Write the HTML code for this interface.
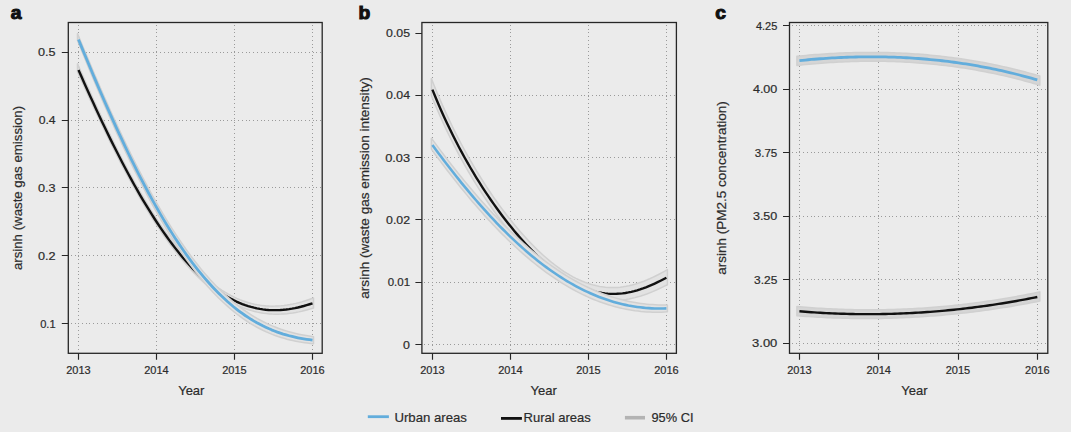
<!DOCTYPE html>
<html><head><meta charset="utf-8"><style>
html,body{margin:0;padding:0;background:#ebebeb;}
body{width:1071px;height:432px;overflow:hidden;position:relative;font-family:"Liberation Sans", sans-serif;}
svg text{font-family:"Liberation Sans", sans-serif;}
svg text.t{stroke:#2b2b2b;stroke-width:0.2px;}
</style></head><body>
<svg width="1071" height="432" viewBox="0 0 1071 432" style="position:absolute;left:0;top:0">
<rect width="1071" height="432" fill="#ebebeb"/>
<path d="M78 25h1v1h-1zM78 29h1v1h-1zM78 32h1v1h-1zM78 36h1v1h-1zM78 40h1v1h-1zM78 44h1v1h-1zM78 47h1v1h-1zM78 51h1v1h-1zM78 55h1v1h-1zM78 58h1v1h-1zM78 62h1v1h-1zM78 66h1v1h-1zM78 70h1v1h-1zM78 73h1v1h-1zM78 77h1v1h-1zM78 81h1v1h-1zM78 85h1v1h-1zM78 88h1v1h-1zM78 92h1v1h-1zM78 96h1v1h-1zM78 99h1v1h-1zM78 103h1v1h-1zM78 107h1v1h-1zM78 111h1v1h-1zM78 114h1v1h-1zM78 118h1v1h-1zM78 122h1v1h-1zM78 125h1v1h-1zM78 129h1v1h-1zM78 133h1v1h-1zM78 137h1v1h-1zM78 140h1v1h-1zM78 144h1v1h-1zM78 148h1v1h-1zM78 151h1v1h-1zM78 155h1v1h-1zM78 159h1v1h-1zM78 163h1v1h-1zM78 166h1v1h-1zM78 170h1v1h-1zM78 174h1v1h-1zM78 178h1v1h-1zM78 181h1v1h-1zM78 185h1v1h-1zM78 189h1v1h-1zM78 192h1v1h-1zM78 196h1v1h-1zM78 200h1v1h-1zM78 204h1v1h-1zM78 207h1v1h-1zM78 211h1v1h-1zM78 215h1v1h-1zM78 218h1v1h-1zM78 222h1v1h-1zM78 226h1v1h-1zM78 230h1v1h-1zM78 233h1v1h-1zM78 237h1v1h-1zM78 241h1v1h-1zM78 244h1v1h-1zM78 248h1v1h-1zM78 252h1v1h-1zM78 256h1v1h-1zM78 259h1v1h-1zM78 263h1v1h-1zM78 267h1v1h-1zM78 271h1v1h-1zM78 274h1v1h-1zM78 278h1v1h-1zM78 282h1v1h-1zM78 285h1v1h-1zM78 289h1v1h-1zM78 293h1v1h-1zM78 297h1v1h-1zM78 300h1v1h-1zM78 304h1v1h-1zM78 308h1v1h-1zM78 311h1v1h-1zM78 315h1v1h-1zM78 319h1v1h-1zM78 323h1v1h-1zM78 326h1v1h-1zM78 330h1v1h-1zM78 334h1v1h-1zM78 337h1v1h-1zM78 341h1v1h-1zM78 345h1v1h-1zM78 349h1v1h-1zM156 25h1v1h-1zM156 29h1v1h-1zM156 32h1v1h-1zM156 36h1v1h-1zM156 40h1v1h-1zM156 44h1v1h-1zM156 47h1v1h-1zM156 51h1v1h-1zM156 55h1v1h-1zM156 58h1v1h-1zM156 62h1v1h-1zM156 66h1v1h-1zM156 70h1v1h-1zM156 73h1v1h-1zM156 77h1v1h-1zM156 81h1v1h-1zM156 85h1v1h-1zM156 88h1v1h-1zM156 92h1v1h-1zM156 96h1v1h-1zM156 99h1v1h-1zM156 103h1v1h-1zM156 107h1v1h-1zM156 111h1v1h-1zM156 114h1v1h-1zM156 118h1v1h-1zM156 122h1v1h-1zM156 125h1v1h-1zM156 129h1v1h-1zM156 133h1v1h-1zM156 137h1v1h-1zM156 140h1v1h-1zM156 144h1v1h-1zM156 148h1v1h-1zM156 151h1v1h-1zM156 155h1v1h-1zM156 159h1v1h-1zM156 163h1v1h-1zM156 166h1v1h-1zM156 170h1v1h-1zM156 174h1v1h-1zM156 178h1v1h-1zM156 181h1v1h-1zM156 185h1v1h-1zM156 189h1v1h-1zM156 192h1v1h-1zM156 196h1v1h-1zM156 200h1v1h-1zM156 204h1v1h-1zM156 207h1v1h-1zM156 211h1v1h-1zM156 215h1v1h-1zM156 218h1v1h-1zM156 222h1v1h-1zM156 226h1v1h-1zM156 230h1v1h-1zM156 233h1v1h-1zM156 237h1v1h-1zM156 241h1v1h-1zM156 244h1v1h-1zM156 248h1v1h-1zM156 252h1v1h-1zM156 256h1v1h-1zM156 259h1v1h-1zM156 263h1v1h-1zM156 267h1v1h-1zM156 271h1v1h-1zM156 274h1v1h-1zM156 278h1v1h-1zM156 282h1v1h-1zM156 285h1v1h-1zM156 289h1v1h-1zM156 293h1v1h-1zM156 297h1v1h-1zM156 300h1v1h-1zM156 304h1v1h-1zM156 308h1v1h-1zM156 311h1v1h-1zM156 315h1v1h-1zM156 319h1v1h-1zM156 323h1v1h-1zM156 326h1v1h-1zM156 330h1v1h-1zM156 334h1v1h-1zM156 337h1v1h-1zM156 341h1v1h-1zM156 345h1v1h-1zM156 349h1v1h-1zM234 25h1v1h-1zM234 29h1v1h-1zM234 32h1v1h-1zM234 36h1v1h-1zM234 40h1v1h-1zM234 44h1v1h-1zM234 47h1v1h-1zM234 51h1v1h-1zM234 55h1v1h-1zM234 58h1v1h-1zM234 62h1v1h-1zM234 66h1v1h-1zM234 70h1v1h-1zM234 73h1v1h-1zM234 77h1v1h-1zM234 81h1v1h-1zM234 85h1v1h-1zM234 88h1v1h-1zM234 92h1v1h-1zM234 96h1v1h-1zM234 99h1v1h-1zM234 103h1v1h-1zM234 107h1v1h-1zM234 111h1v1h-1zM234 114h1v1h-1zM234 118h1v1h-1zM234 122h1v1h-1zM234 125h1v1h-1zM234 129h1v1h-1zM234 133h1v1h-1zM234 137h1v1h-1zM234 140h1v1h-1zM234 144h1v1h-1zM234 148h1v1h-1zM234 151h1v1h-1zM234 155h1v1h-1zM234 159h1v1h-1zM234 163h1v1h-1zM234 166h1v1h-1zM234 170h1v1h-1zM234 174h1v1h-1zM234 178h1v1h-1zM234 181h1v1h-1zM234 185h1v1h-1zM234 189h1v1h-1zM234 192h1v1h-1zM234 196h1v1h-1zM234 200h1v1h-1zM234 204h1v1h-1zM234 207h1v1h-1zM234 211h1v1h-1zM234 215h1v1h-1zM234 218h1v1h-1zM234 222h1v1h-1zM234 226h1v1h-1zM234 230h1v1h-1zM234 233h1v1h-1zM234 237h1v1h-1zM234 241h1v1h-1zM234 244h1v1h-1zM234 248h1v1h-1zM234 252h1v1h-1zM234 256h1v1h-1zM234 259h1v1h-1zM234 263h1v1h-1zM234 267h1v1h-1zM234 271h1v1h-1zM234 274h1v1h-1zM234 278h1v1h-1zM234 282h1v1h-1zM234 285h1v1h-1zM234 289h1v1h-1zM234 293h1v1h-1zM234 297h1v1h-1zM234 300h1v1h-1zM234 304h1v1h-1zM234 308h1v1h-1zM234 311h1v1h-1zM234 315h1v1h-1zM234 319h1v1h-1zM234 323h1v1h-1zM234 326h1v1h-1zM234 330h1v1h-1zM234 334h1v1h-1zM234 337h1v1h-1zM234 341h1v1h-1zM234 345h1v1h-1zM234 349h1v1h-1zM312 25h1v1h-1zM312 29h1v1h-1zM312 32h1v1h-1zM312 36h1v1h-1zM312 40h1v1h-1zM312 44h1v1h-1zM312 47h1v1h-1zM312 51h1v1h-1zM312 55h1v1h-1zM312 58h1v1h-1zM312 62h1v1h-1zM312 66h1v1h-1zM312 70h1v1h-1zM312 73h1v1h-1zM312 77h1v1h-1zM312 81h1v1h-1zM312 85h1v1h-1zM312 88h1v1h-1zM312 92h1v1h-1zM312 96h1v1h-1zM312 99h1v1h-1zM312 103h1v1h-1zM312 107h1v1h-1zM312 111h1v1h-1zM312 114h1v1h-1zM312 118h1v1h-1zM312 122h1v1h-1zM312 125h1v1h-1zM312 129h1v1h-1zM312 133h1v1h-1zM312 137h1v1h-1zM312 140h1v1h-1zM312 144h1v1h-1zM312 148h1v1h-1zM312 151h1v1h-1zM312 155h1v1h-1zM312 159h1v1h-1zM312 163h1v1h-1zM312 166h1v1h-1zM312 170h1v1h-1zM312 174h1v1h-1zM312 178h1v1h-1zM312 181h1v1h-1zM312 185h1v1h-1zM312 189h1v1h-1zM312 192h1v1h-1zM312 196h1v1h-1zM312 200h1v1h-1zM312 204h1v1h-1zM312 207h1v1h-1zM312 211h1v1h-1zM312 215h1v1h-1zM312 218h1v1h-1zM312 222h1v1h-1zM312 226h1v1h-1zM312 230h1v1h-1zM312 233h1v1h-1zM312 237h1v1h-1zM312 241h1v1h-1zM312 244h1v1h-1zM312 248h1v1h-1zM312 252h1v1h-1zM312 256h1v1h-1zM312 259h1v1h-1zM312 263h1v1h-1zM312 267h1v1h-1zM312 271h1v1h-1zM312 274h1v1h-1zM312 278h1v1h-1zM312 282h1v1h-1zM312 285h1v1h-1zM312 289h1v1h-1zM312 293h1v1h-1zM312 297h1v1h-1zM312 300h1v1h-1zM312 304h1v1h-1zM312 308h1v1h-1zM312 311h1v1h-1zM312 315h1v1h-1zM312 319h1v1h-1zM312 323h1v1h-1zM312 326h1v1h-1zM312 330h1v1h-1zM312 334h1v1h-1zM312 337h1v1h-1zM312 341h1v1h-1zM312 345h1v1h-1zM312 349h1v1h-1zM71 323h1v1h-1zM75 323h1v1h-1zM78 323h1v1h-1zM82 323h1v1h-1zM86 323h1v1h-1zM89 323h1v1h-1zM93 323h1v1h-1zM97 323h1v1h-1zM101 323h1v1h-1zM104 323h1v1h-1zM108 323h1v1h-1zM112 323h1v1h-1zM115 323h1v1h-1zM119 323h1v1h-1zM123 323h1v1h-1zM127 323h1v1h-1zM130 323h1v1h-1zM134 323h1v1h-1zM138 323h1v1h-1zM141 323h1v1h-1zM145 323h1v1h-1zM149 323h1v1h-1zM153 323h1v1h-1zM156 323h1v1h-1zM160 323h1v1h-1zM164 323h1v1h-1zM168 323h1v1h-1zM171 323h1v1h-1zM175 323h1v1h-1zM179 323h1v1h-1zM182 323h1v1h-1zM186 323h1v1h-1zM190 323h1v1h-1zM194 323h1v1h-1zM197 323h1v1h-1zM201 323h1v1h-1zM205 323h1v1h-1zM208 323h1v1h-1zM212 323h1v1h-1zM216 323h1v1h-1zM220 323h1v1h-1zM223 323h1v1h-1zM227 323h1v1h-1zM231 323h1v1h-1zM234 323h1v1h-1zM238 323h1v1h-1zM242 323h1v1h-1zM246 323h1v1h-1zM249 323h1v1h-1zM253 323h1v1h-1zM257 323h1v1h-1zM261 323h1v1h-1zM264 323h1v1h-1zM268 323h1v1h-1zM272 323h1v1h-1zM275 323h1v1h-1zM279 323h1v1h-1zM283 323h1v1h-1zM287 323h1v1h-1zM290 323h1v1h-1zM294 323h1v1h-1zM298 323h1v1h-1zM301 323h1v1h-1zM305 323h1v1h-1zM309 323h1v1h-1zM313 323h1v1h-1zM316 323h1v1h-1zM320 323h1v1h-1zM71 255h1v1h-1zM75 255h1v1h-1zM78 255h1v1h-1zM82 255h1v1h-1zM86 255h1v1h-1zM89 255h1v1h-1zM93 255h1v1h-1zM97 255h1v1h-1zM101 255h1v1h-1zM104 255h1v1h-1zM108 255h1v1h-1zM112 255h1v1h-1zM115 255h1v1h-1zM119 255h1v1h-1zM123 255h1v1h-1zM127 255h1v1h-1zM130 255h1v1h-1zM134 255h1v1h-1zM138 255h1v1h-1zM141 255h1v1h-1zM145 255h1v1h-1zM149 255h1v1h-1zM153 255h1v1h-1zM156 255h1v1h-1zM160 255h1v1h-1zM164 255h1v1h-1zM168 255h1v1h-1zM171 255h1v1h-1zM175 255h1v1h-1zM179 255h1v1h-1zM182 255h1v1h-1zM186 255h1v1h-1zM190 255h1v1h-1zM194 255h1v1h-1zM197 255h1v1h-1zM201 255h1v1h-1zM205 255h1v1h-1zM208 255h1v1h-1zM212 255h1v1h-1zM216 255h1v1h-1zM220 255h1v1h-1zM223 255h1v1h-1zM227 255h1v1h-1zM231 255h1v1h-1zM234 255h1v1h-1zM238 255h1v1h-1zM242 255h1v1h-1zM246 255h1v1h-1zM249 255h1v1h-1zM253 255h1v1h-1zM257 255h1v1h-1zM261 255h1v1h-1zM264 255h1v1h-1zM268 255h1v1h-1zM272 255h1v1h-1zM275 255h1v1h-1zM279 255h1v1h-1zM283 255h1v1h-1zM287 255h1v1h-1zM290 255h1v1h-1zM294 255h1v1h-1zM298 255h1v1h-1zM301 255h1v1h-1zM305 255h1v1h-1zM309 255h1v1h-1zM313 255h1v1h-1zM316 255h1v1h-1zM320 255h1v1h-1zM71 187h1v1h-1zM75 187h1v1h-1zM78 187h1v1h-1zM82 187h1v1h-1zM86 187h1v1h-1zM89 187h1v1h-1zM93 187h1v1h-1zM97 187h1v1h-1zM101 187h1v1h-1zM104 187h1v1h-1zM108 187h1v1h-1zM112 187h1v1h-1zM115 187h1v1h-1zM119 187h1v1h-1zM123 187h1v1h-1zM127 187h1v1h-1zM130 187h1v1h-1zM134 187h1v1h-1zM138 187h1v1h-1zM141 187h1v1h-1zM145 187h1v1h-1zM149 187h1v1h-1zM153 187h1v1h-1zM156 187h1v1h-1zM160 187h1v1h-1zM164 187h1v1h-1zM168 187h1v1h-1zM171 187h1v1h-1zM175 187h1v1h-1zM179 187h1v1h-1zM182 187h1v1h-1zM186 187h1v1h-1zM190 187h1v1h-1zM194 187h1v1h-1zM197 187h1v1h-1zM201 187h1v1h-1zM205 187h1v1h-1zM208 187h1v1h-1zM212 187h1v1h-1zM216 187h1v1h-1zM220 187h1v1h-1zM223 187h1v1h-1zM227 187h1v1h-1zM231 187h1v1h-1zM234 187h1v1h-1zM238 187h1v1h-1zM242 187h1v1h-1zM246 187h1v1h-1zM249 187h1v1h-1zM253 187h1v1h-1zM257 187h1v1h-1zM261 187h1v1h-1zM264 187h1v1h-1zM268 187h1v1h-1zM272 187h1v1h-1zM275 187h1v1h-1zM279 187h1v1h-1zM283 187h1v1h-1zM287 187h1v1h-1zM290 187h1v1h-1zM294 187h1v1h-1zM298 187h1v1h-1zM301 187h1v1h-1zM305 187h1v1h-1zM309 187h1v1h-1zM313 187h1v1h-1zM316 187h1v1h-1zM320 187h1v1h-1zM71 120h1v1h-1zM75 120h1v1h-1zM78 120h1v1h-1zM82 120h1v1h-1zM86 120h1v1h-1zM89 120h1v1h-1zM93 120h1v1h-1zM97 120h1v1h-1zM101 120h1v1h-1zM104 120h1v1h-1zM108 120h1v1h-1zM112 120h1v1h-1zM115 120h1v1h-1zM119 120h1v1h-1zM123 120h1v1h-1zM127 120h1v1h-1zM130 120h1v1h-1zM134 120h1v1h-1zM138 120h1v1h-1zM141 120h1v1h-1zM145 120h1v1h-1zM149 120h1v1h-1zM153 120h1v1h-1zM156 120h1v1h-1zM160 120h1v1h-1zM164 120h1v1h-1zM168 120h1v1h-1zM171 120h1v1h-1zM175 120h1v1h-1zM179 120h1v1h-1zM182 120h1v1h-1zM186 120h1v1h-1zM190 120h1v1h-1zM194 120h1v1h-1zM197 120h1v1h-1zM201 120h1v1h-1zM205 120h1v1h-1zM208 120h1v1h-1zM212 120h1v1h-1zM216 120h1v1h-1zM220 120h1v1h-1zM223 120h1v1h-1zM227 120h1v1h-1zM231 120h1v1h-1zM234 120h1v1h-1zM238 120h1v1h-1zM242 120h1v1h-1zM246 120h1v1h-1zM249 120h1v1h-1zM253 120h1v1h-1zM257 120h1v1h-1zM261 120h1v1h-1zM264 120h1v1h-1zM268 120h1v1h-1zM272 120h1v1h-1zM275 120h1v1h-1zM279 120h1v1h-1zM283 120h1v1h-1zM287 120h1v1h-1zM290 120h1v1h-1zM294 120h1v1h-1zM298 120h1v1h-1zM301 120h1v1h-1zM305 120h1v1h-1zM309 120h1v1h-1zM313 120h1v1h-1zM316 120h1v1h-1zM320 120h1v1h-1zM71 52h1v1h-1zM75 52h1v1h-1zM78 52h1v1h-1zM82 52h1v1h-1zM86 52h1v1h-1zM89 52h1v1h-1zM93 52h1v1h-1zM97 52h1v1h-1zM101 52h1v1h-1zM104 52h1v1h-1zM108 52h1v1h-1zM112 52h1v1h-1zM115 52h1v1h-1zM119 52h1v1h-1zM123 52h1v1h-1zM127 52h1v1h-1zM130 52h1v1h-1zM134 52h1v1h-1zM138 52h1v1h-1zM141 52h1v1h-1zM145 52h1v1h-1zM149 52h1v1h-1zM153 52h1v1h-1zM156 52h1v1h-1zM160 52h1v1h-1zM164 52h1v1h-1zM168 52h1v1h-1zM171 52h1v1h-1zM175 52h1v1h-1zM179 52h1v1h-1zM182 52h1v1h-1zM186 52h1v1h-1zM190 52h1v1h-1zM194 52h1v1h-1zM197 52h1v1h-1zM201 52h1v1h-1zM205 52h1v1h-1zM208 52h1v1h-1zM212 52h1v1h-1zM216 52h1v1h-1zM220 52h1v1h-1zM223 52h1v1h-1zM227 52h1v1h-1zM231 52h1v1h-1zM234 52h1v1h-1zM238 52h1v1h-1zM242 52h1v1h-1zM246 52h1v1h-1zM249 52h1v1h-1zM253 52h1v1h-1zM257 52h1v1h-1zM261 52h1v1h-1zM264 52h1v1h-1zM268 52h1v1h-1zM272 52h1v1h-1zM275 52h1v1h-1zM279 52h1v1h-1zM283 52h1v1h-1zM287 52h1v1h-1zM290 52h1v1h-1zM294 52h1v1h-1zM298 52h1v1h-1zM301 52h1v1h-1zM305 52h1v1h-1zM309 52h1v1h-1zM313 52h1v1h-1zM316 52h1v1h-1zM320 52h1v1h-1z" fill="#9a9a9a" shape-rendering="crispEdges"/>
<polygon points="77.5,63.67 80.45,70.43 83.4,77.15 86.35,83.8 89.3,90.4 92.25,96.94 95.2,103.41 98.15,109.81 101.1,116.14 104.05,122.4 107,128.58 109.95,134.68 112.9,140.7 115.85,146.64 118.8,152.49 121.75,158.26 124.7,163.93 127.65,169.51 130.6,174.99 133.55,180.38 136.5,185.66 139.45,190.85 142.4,195.94 145.35,200.92 148.3,205.79 151.25,210.56 154.2,215.22 157.15,219.77 160.1,224.21 163.05,228.53 166,232.74 168.95,236.84 171.9,240.82 174.85,244.69 177.8,248.44 180.75,252.07 183.7,255.58 186.65,258.97 189.6,262.25 192.55,265.4 195.5,268.44 198.45,271.35 201.4,274.15 204.35,276.82 207.3,279.37 210.25,281.8 213.2,284.12 216.15,286.31 219.1,288.38 222.05,290.34 225,292.17 227.95,293.89 230.9,295.49 233.85,296.97 236.8,298.34 239.75,299.59 242.7,300.73 245.65,301.76 248.6,302.68 251.55,303.48 254.5,304.18 257.45,304.76 260.4,305.25 263.35,305.62 266.3,305.9 269.25,306.07 272.2,306.14 275.15,306.12 278.1,306 281.05,305.79 284,305.48 286.95,305.09 289.9,304.6 292.85,304.04 295.8,303.39 298.75,302.66 301.7,301.86 304.65,300.98 307.6,300.03 310.55,299.01 313.5,297.92 313.5,307.98 310.55,308.89 307.6,309.74 304.65,310.52 301.7,311.24 298.75,311.88 295.8,312.45 292.85,312.95 289.9,313.36 286.95,313.7 284,313.95 281.05,314.12 278.1,314.2 275.15,314.19 272.2,314.09 269.25,313.89 266.3,313.6 263.35,313.21 260.4,312.72 257.45,312.13 254.5,311.44 251.55,310.65 248.6,309.75 245.65,308.74 242.7,307.63 239.75,306.4 236.8,305.07 233.85,303.62 230.9,302.07 227.95,300.4 225,298.61 222.05,296.72 219.1,294.71 216.15,292.58 213.2,290.34 210.25,287.98 207.3,285.5 204.35,282.91 201.4,280.2 198.45,277.38 195.5,274.44 192.55,271.38 189.6,268.21 186.65,264.92 183.7,261.51 180.75,257.99 177.8,254.35 174.85,250.61 171.9,246.74 168.95,242.77 166,238.68 163.05,234.48 160.1,230.18 157.15,225.76 154.2,221.24 151.25,216.61 148.3,211.88 145.35,207.04 142.4,202.1 139.45,197.06 136.5,191.92 133.55,186.69 130.6,181.36 127.65,175.94 124.7,170.42 121.75,164.82 118.8,159.13 115.85,153.35 112.9,147.49 109.95,141.56 107,135.54 104.05,129.45 101.1,123.29 98.15,117.05 95.2,110.75 92.25,104.39 89.3,97.96 86.35,91.48 83.4,84.94 80.45,78.35 77.5,71.71" fill="#e2e2e2" stroke="#d0d0d0" stroke-width="1.5" stroke-linejoin="round"/>
<polyline points="78.5,69.97 81.42,76.6 84.35,83.17 87.28,89.7 90.2,96.17 93.12,102.57 96.05,108.92 98.97,115.19 101.9,121.4 104.83,127.54 107.75,133.61 110.67,139.6 113.6,145.51 116.53,151.33 119.45,157.08 122.38,162.74 125.3,168.31 128.22,173.79 131.15,179.18 134.07,184.48 137,189.68 139.93,194.78 142.85,199.78 145.77,204.68 148.7,209.49 151.62,214.18 154.55,218.77 157.47,223.26 160.4,227.64 163.32,231.9 166.25,236.06 169.18,240.11 172.1,244.05 175.02,247.87 177.95,251.58 180.88,255.18 183.8,258.66 186.72,262.03 189.65,265.28 192.57,268.42 195.5,271.44 198.43,274.34 201.35,277.13 204.27,279.8 207.2,282.35 210.12,284.79 213.05,287.11 215.97,289.32 218.9,291.41 221.82,293.38 224.75,295.24 227.67,296.99 230.6,298.62 233.52,300.14 236.45,301.54 239.38,302.84 242.3,304.03 245.22,305.1 248.15,306.07 251.07,306.93 254,307.69 256.92,308.34 259.85,308.89 262.77,309.34 265.7,309.69 268.62,309.94 271.55,310.09 274.48,310.15 277.4,310.12 280.32,310 283.25,309.79 286.17,309.49 289.1,309.1 292.02,308.64 294.95,308.09 297.88,307.47 300.8,306.78 303.73,306.01 306.65,305.17 309.57,304.27 312.5,303.3" fill="none" stroke="#111111" stroke-width="2.4" stroke-linejoin="round"/>
<polygon points="77.5,33.51 80.45,40.67 83.4,47.8 86.35,54.87 89.3,61.9 92.25,68.87 95.2,75.79 98.15,82.65 101.1,89.45 104.05,96.18 107,102.85 109.95,109.45 112.9,115.97 115.85,122.43 118.8,128.8 121.75,135.1 124.7,141.32 127.65,147.45 130.6,153.5 133.55,159.46 136.5,165.33 139.45,171.11 142.4,176.8 145.35,182.4 148.3,187.9 151.25,193.3 154.2,198.61 157.15,203.81 160.1,208.92 163.05,213.92 166,218.83 168.95,223.62 171.9,228.32 174.85,232.91 177.8,237.39 180.75,241.77 183.7,246.04 186.65,250.21 189.6,254.27 192.55,258.22 195.5,262.06 198.45,265.79 201.4,269.42 204.35,272.94 207.3,276.35 210.25,279.66 213.2,282.86 216.15,285.96 219.1,288.94 222.05,291.83 225,294.61 227.95,297.28 230.9,299.86 233.85,302.33 236.8,304.7 239.75,306.98 242.7,309.15 245.65,311.23 248.6,313.21 251.55,315.1 254.5,316.9 257.45,318.61 260.4,320.23 263.35,321.76 266.3,323.21 269.25,324.57 272.2,325.86 275.15,327.06 278.1,328.19 281.05,329.25 284,330.23 286.95,331.15 289.9,332 292.85,332.78 295.8,333.5 298.75,334.17 301.7,334.78 304.65,335.34 307.6,335.85 310.55,336.31 313.5,336.73 313.5,343.69 310.55,343.4 307.6,343.06 304.65,342.68 301.7,342.24 298.75,341.75 295.8,341.19 292.85,340.58 289.9,339.9 286.95,339.16 284,338.34 281.05,337.46 278.1,336.5 275.15,335.46 272.2,334.34 269.25,333.14 266.3,331.86 263.35,330.49 260.4,329.03 257.45,327.48 254.5,325.84 251.55,324.11 248.6,322.28 245.65,320.35 242.7,318.33 239.75,316.2 236.8,313.98 233.85,311.65 230.9,309.22 227.95,306.68 225,304.04 222.05,301.29 219.1,298.44 216.15,295.47 213.2,292.4 210.25,289.22 207.3,285.93 204.35,282.53 201.4,279.01 198.45,275.39 195.5,271.66 192.55,267.81 189.6,263.86 186.65,259.79 183.7,255.62 180.75,251.33 177.8,246.93 174.85,242.43 171.9,237.81 168.95,233.09 166,228.26 163.05,223.32 160.1,218.28 157.15,213.13 154.2,207.88 151.25,202.53 148.3,197.07 145.35,191.52 142.4,185.87 139.45,180.11 136.5,174.27 133.55,168.33 130.6,162.3 127.65,156.17 124.7,149.96 121.75,143.67 118.8,137.28 115.85,130.82 112.9,124.28 109.95,117.66 107,110.96 104.05,104.19 101.1,97.35 98.15,90.45 95.2,83.48 92.25,76.44 89.3,69.35 86.35,62.21 83.4,55.01 80.45,47.76 77.5,40.47" fill="#e2e2e2" stroke="#d0d0d0" stroke-width="1.5" stroke-linejoin="round"/>
<polyline points="78.5,39.44 81.42,46.6 84.35,53.71 87.28,60.77 90.2,67.78 93.12,74.73 96.05,81.63 98.97,88.47 101.9,95.25 104.83,101.96 107.75,108.6 110.67,115.17 113.6,121.67 116.53,128.1 119.45,134.45 122.38,140.71 125.3,146.9 128.22,153 131.15,159.02 134.07,164.95 137,170.79 139.93,176.54 142.85,182.2 145.77,187.76 148.7,193.23 151.62,198.6 154.55,203.87 157.47,209.04 160.4,214.12 163.32,219.09 166.25,223.95 169.18,228.72 172.1,233.38 175.02,237.94 177.95,242.39 180.88,246.73 183.8,250.97 186.72,255.1 189.65,259.13 192.57,263.05 195.5,266.86 198.43,270.56 201.35,274.16 204.27,277.65 207.2,281.03 210.12,284.3 213.05,287.47 215.97,290.53 218.9,293.49 221.82,296.35 224.75,299.09 227.67,301.74 230.6,304.28 233.52,306.73 236.45,309.07 239.38,311.31 242.3,313.45 245.22,315.5 248.15,317.45 251.07,319.31 254,321.08 256.92,322.76 259.85,324.34 262.77,325.84 265.7,327.25 268.62,328.58 271.55,329.83 274.48,331 277.4,332.1 280.32,333.11 283.25,334.06 286.17,334.93 289.1,335.74 292.02,336.48 294.95,337.16 297.88,337.78 300.8,338.35 303.73,338.86 306.65,339.32 309.57,339.73 312.5,340.1" fill="none" stroke="#62addc" stroke-width="2.8" stroke-linejoin="round"/>
<rect x="68.3" y="22.5" width="253.9" height="330.8" fill="none" stroke="#262626" stroke-width="1.3"/>
<path d="M78.5 353.3V359.8M156.5 353.3V359.8M234.5 353.3V359.8M312.5 353.3V359.8M61.8 323.5H68.3M61.8 255.5H68.3M61.8 187.5H68.3M61.8 120.5H68.3M61.8 52.5H68.3" stroke="#262626" stroke-width="1.15" fill="none"/>
<text x="78.5" y="374" text-anchor="middle" font-size="11" fill="#2b2b2b" class="t">2013</text>
<text x="156.5" y="374" text-anchor="middle" font-size="11" fill="#2b2b2b" class="t">2014</text>
<text x="234.5" y="374" text-anchor="middle" font-size="11" fill="#2b2b2b" class="t">2015</text>
<text x="312.5" y="374" text-anchor="middle" font-size="11" fill="#2b2b2b" class="t">2016</text>
<text transform="translate(55.6,327.5) scale(1.01,1)" text-anchor="end" font-size="11" fill="#2b2b2b" class="t">0.1</text>
<text transform="translate(55.6,259.73) scale(1.15,1)" text-anchor="end" font-size="11" fill="#2b2b2b" class="t">0.2</text>
<text transform="translate(55.6,191.95) scale(1.15,1)" text-anchor="end" font-size="11" fill="#2b2b2b" class="t">0.3</text>
<text transform="translate(55.6,124.17) scale(1.11,1)" text-anchor="end" font-size="11" fill="#2b2b2b" class="t">0.4</text>
<text transform="translate(55.6,56.4) scale(1.15,1)" text-anchor="end" font-size="11" fill="#2b2b2b" class="t">0.5</text>
<text x="191.3" y="394.7" text-anchor="middle" font-size="13" fill="#2b2b2b" class="t">Year</text>
<text transform="translate(21.8,188) rotate(-90)" text-anchor="middle" font-size="13.25" fill="#2b2b2b" class="t">arsinh (waste gas emission)</text>
<text transform="translate(10.8,19.3) scale(1.1,1)" font-size="17.5" font-weight="bold" fill="#111" stroke="#111" stroke-width="1.0">a</text>
<path d="M432 25h1v1h-1zM432 29h1v1h-1zM432 32h1v1h-1zM432 36h1v1h-1zM432 40h1v1h-1zM432 44h1v1h-1zM432 47h1v1h-1zM432 51h1v1h-1zM432 55h1v1h-1zM432 58h1v1h-1zM432 62h1v1h-1zM432 66h1v1h-1zM432 70h1v1h-1zM432 73h1v1h-1zM432 77h1v1h-1zM432 81h1v1h-1zM432 85h1v1h-1zM432 88h1v1h-1zM432 92h1v1h-1zM432 96h1v1h-1zM432 99h1v1h-1zM432 103h1v1h-1zM432 107h1v1h-1zM432 111h1v1h-1zM432 114h1v1h-1zM432 118h1v1h-1zM432 122h1v1h-1zM432 125h1v1h-1zM432 129h1v1h-1zM432 133h1v1h-1zM432 137h1v1h-1zM432 140h1v1h-1zM432 144h1v1h-1zM432 148h1v1h-1zM432 151h1v1h-1zM432 155h1v1h-1zM432 159h1v1h-1zM432 163h1v1h-1zM432 166h1v1h-1zM432 170h1v1h-1zM432 174h1v1h-1zM432 178h1v1h-1zM432 181h1v1h-1zM432 185h1v1h-1zM432 189h1v1h-1zM432 192h1v1h-1zM432 196h1v1h-1zM432 200h1v1h-1zM432 204h1v1h-1zM432 207h1v1h-1zM432 211h1v1h-1zM432 215h1v1h-1zM432 218h1v1h-1zM432 222h1v1h-1zM432 226h1v1h-1zM432 230h1v1h-1zM432 233h1v1h-1zM432 237h1v1h-1zM432 241h1v1h-1zM432 244h1v1h-1zM432 248h1v1h-1zM432 252h1v1h-1zM432 256h1v1h-1zM432 259h1v1h-1zM432 263h1v1h-1zM432 267h1v1h-1zM432 271h1v1h-1zM432 274h1v1h-1zM432 278h1v1h-1zM432 282h1v1h-1zM432 285h1v1h-1zM432 289h1v1h-1zM432 293h1v1h-1zM432 297h1v1h-1zM432 300h1v1h-1zM432 304h1v1h-1zM432 308h1v1h-1zM432 311h1v1h-1zM432 315h1v1h-1zM432 319h1v1h-1zM432 323h1v1h-1zM432 326h1v1h-1zM432 330h1v1h-1zM432 334h1v1h-1zM432 337h1v1h-1zM432 341h1v1h-1zM432 345h1v1h-1zM432 349h1v1h-1zM510 25h1v1h-1zM510 29h1v1h-1zM510 32h1v1h-1zM510 36h1v1h-1zM510 40h1v1h-1zM510 44h1v1h-1zM510 47h1v1h-1zM510 51h1v1h-1zM510 55h1v1h-1zM510 58h1v1h-1zM510 62h1v1h-1zM510 66h1v1h-1zM510 70h1v1h-1zM510 73h1v1h-1zM510 77h1v1h-1zM510 81h1v1h-1zM510 85h1v1h-1zM510 88h1v1h-1zM510 92h1v1h-1zM510 96h1v1h-1zM510 99h1v1h-1zM510 103h1v1h-1zM510 107h1v1h-1zM510 111h1v1h-1zM510 114h1v1h-1zM510 118h1v1h-1zM510 122h1v1h-1zM510 125h1v1h-1zM510 129h1v1h-1zM510 133h1v1h-1zM510 137h1v1h-1zM510 140h1v1h-1zM510 144h1v1h-1zM510 148h1v1h-1zM510 151h1v1h-1zM510 155h1v1h-1zM510 159h1v1h-1zM510 163h1v1h-1zM510 166h1v1h-1zM510 170h1v1h-1zM510 174h1v1h-1zM510 178h1v1h-1zM510 181h1v1h-1zM510 185h1v1h-1zM510 189h1v1h-1zM510 192h1v1h-1zM510 196h1v1h-1zM510 200h1v1h-1zM510 204h1v1h-1zM510 207h1v1h-1zM510 211h1v1h-1zM510 215h1v1h-1zM510 218h1v1h-1zM510 222h1v1h-1zM510 226h1v1h-1zM510 230h1v1h-1zM510 233h1v1h-1zM510 237h1v1h-1zM510 241h1v1h-1zM510 244h1v1h-1zM510 248h1v1h-1zM510 252h1v1h-1zM510 256h1v1h-1zM510 259h1v1h-1zM510 263h1v1h-1zM510 267h1v1h-1zM510 271h1v1h-1zM510 274h1v1h-1zM510 278h1v1h-1zM510 282h1v1h-1zM510 285h1v1h-1zM510 289h1v1h-1zM510 293h1v1h-1zM510 297h1v1h-1zM510 300h1v1h-1zM510 304h1v1h-1zM510 308h1v1h-1zM510 311h1v1h-1zM510 315h1v1h-1zM510 319h1v1h-1zM510 323h1v1h-1zM510 326h1v1h-1zM510 330h1v1h-1zM510 334h1v1h-1zM510 337h1v1h-1zM510 341h1v1h-1zM510 345h1v1h-1zM510 349h1v1h-1zM588 25h1v1h-1zM588 29h1v1h-1zM588 32h1v1h-1zM588 36h1v1h-1zM588 40h1v1h-1zM588 44h1v1h-1zM588 47h1v1h-1zM588 51h1v1h-1zM588 55h1v1h-1zM588 58h1v1h-1zM588 62h1v1h-1zM588 66h1v1h-1zM588 70h1v1h-1zM588 73h1v1h-1zM588 77h1v1h-1zM588 81h1v1h-1zM588 85h1v1h-1zM588 88h1v1h-1zM588 92h1v1h-1zM588 96h1v1h-1zM588 99h1v1h-1zM588 103h1v1h-1zM588 107h1v1h-1zM588 111h1v1h-1zM588 114h1v1h-1zM588 118h1v1h-1zM588 122h1v1h-1zM588 125h1v1h-1zM588 129h1v1h-1zM588 133h1v1h-1zM588 137h1v1h-1zM588 140h1v1h-1zM588 144h1v1h-1zM588 148h1v1h-1zM588 151h1v1h-1zM588 155h1v1h-1zM588 159h1v1h-1zM588 163h1v1h-1zM588 166h1v1h-1zM588 170h1v1h-1zM588 174h1v1h-1zM588 178h1v1h-1zM588 181h1v1h-1zM588 185h1v1h-1zM588 189h1v1h-1zM588 192h1v1h-1zM588 196h1v1h-1zM588 200h1v1h-1zM588 204h1v1h-1zM588 207h1v1h-1zM588 211h1v1h-1zM588 215h1v1h-1zM588 218h1v1h-1zM588 222h1v1h-1zM588 226h1v1h-1zM588 230h1v1h-1zM588 233h1v1h-1zM588 237h1v1h-1zM588 241h1v1h-1zM588 244h1v1h-1zM588 248h1v1h-1zM588 252h1v1h-1zM588 256h1v1h-1zM588 259h1v1h-1zM588 263h1v1h-1zM588 267h1v1h-1zM588 271h1v1h-1zM588 274h1v1h-1zM588 278h1v1h-1zM588 282h1v1h-1zM588 285h1v1h-1zM588 289h1v1h-1zM588 293h1v1h-1zM588 297h1v1h-1zM588 300h1v1h-1zM588 304h1v1h-1zM588 308h1v1h-1zM588 311h1v1h-1zM588 315h1v1h-1zM588 319h1v1h-1zM588 323h1v1h-1zM588 326h1v1h-1zM588 330h1v1h-1zM588 334h1v1h-1zM588 337h1v1h-1zM588 341h1v1h-1zM588 345h1v1h-1zM588 349h1v1h-1zM666 25h1v1h-1zM666 29h1v1h-1zM666 32h1v1h-1zM666 36h1v1h-1zM666 40h1v1h-1zM666 44h1v1h-1zM666 47h1v1h-1zM666 51h1v1h-1zM666 55h1v1h-1zM666 58h1v1h-1zM666 62h1v1h-1zM666 66h1v1h-1zM666 70h1v1h-1zM666 73h1v1h-1zM666 77h1v1h-1zM666 81h1v1h-1zM666 85h1v1h-1zM666 88h1v1h-1zM666 92h1v1h-1zM666 96h1v1h-1zM666 99h1v1h-1zM666 103h1v1h-1zM666 107h1v1h-1zM666 111h1v1h-1zM666 114h1v1h-1zM666 118h1v1h-1zM666 122h1v1h-1zM666 125h1v1h-1zM666 129h1v1h-1zM666 133h1v1h-1zM666 137h1v1h-1zM666 140h1v1h-1zM666 144h1v1h-1zM666 148h1v1h-1zM666 151h1v1h-1zM666 155h1v1h-1zM666 159h1v1h-1zM666 163h1v1h-1zM666 166h1v1h-1zM666 170h1v1h-1zM666 174h1v1h-1zM666 178h1v1h-1zM666 181h1v1h-1zM666 185h1v1h-1zM666 189h1v1h-1zM666 192h1v1h-1zM666 196h1v1h-1zM666 200h1v1h-1zM666 204h1v1h-1zM666 207h1v1h-1zM666 211h1v1h-1zM666 215h1v1h-1zM666 218h1v1h-1zM666 222h1v1h-1zM666 226h1v1h-1zM666 230h1v1h-1zM666 233h1v1h-1zM666 237h1v1h-1zM666 241h1v1h-1zM666 244h1v1h-1zM666 248h1v1h-1zM666 252h1v1h-1zM666 256h1v1h-1zM666 259h1v1h-1zM666 263h1v1h-1zM666 267h1v1h-1zM666 271h1v1h-1zM666 274h1v1h-1zM666 278h1v1h-1zM666 282h1v1h-1zM666 285h1v1h-1zM666 289h1v1h-1zM666 293h1v1h-1zM666 297h1v1h-1zM666 300h1v1h-1zM666 304h1v1h-1zM666 308h1v1h-1zM666 311h1v1h-1zM666 315h1v1h-1zM666 319h1v1h-1zM666 323h1v1h-1zM666 326h1v1h-1zM666 330h1v1h-1zM666 334h1v1h-1zM666 337h1v1h-1zM666 341h1v1h-1zM666 345h1v1h-1zM666 349h1v1h-1zM424 344h1v1h-1zM428 344h1v1h-1zM432 344h1v1h-1zM436 344h1v1h-1zM439 344h1v1h-1zM443 344h1v1h-1zM447 344h1v1h-1zM450 344h1v1h-1zM454 344h1v1h-1zM458 344h1v1h-1zM462 344h1v1h-1zM465 344h1v1h-1zM469 344h1v1h-1zM473 344h1v1h-1zM476 344h1v1h-1zM480 344h1v1h-1zM484 344h1v1h-1zM488 344h1v1h-1zM491 344h1v1h-1zM495 344h1v1h-1zM499 344h1v1h-1zM503 344h1v1h-1zM506 344h1v1h-1zM510 344h1v1h-1zM514 344h1v1h-1zM517 344h1v1h-1zM521 344h1v1h-1zM525 344h1v1h-1zM529 344h1v1h-1zM532 344h1v1h-1zM536 344h1v1h-1zM540 344h1v1h-1zM543 344h1v1h-1zM547 344h1v1h-1zM551 344h1v1h-1zM555 344h1v1h-1zM558 344h1v1h-1zM562 344h1v1h-1zM566 344h1v1h-1zM569 344h1v1h-1zM573 344h1v1h-1zM577 344h1v1h-1zM581 344h1v1h-1zM584 344h1v1h-1zM588 344h1v1h-1zM592 344h1v1h-1zM596 344h1v1h-1zM599 344h1v1h-1zM603 344h1v1h-1zM607 344h1v1h-1zM610 344h1v1h-1zM614 344h1v1h-1zM618 344h1v1h-1zM622 344h1v1h-1zM625 344h1v1h-1zM629 344h1v1h-1zM633 344h1v1h-1zM636 344h1v1h-1zM640 344h1v1h-1zM644 344h1v1h-1zM648 344h1v1h-1zM651 344h1v1h-1zM655 344h1v1h-1zM659 344h1v1h-1zM662 344h1v1h-1zM666 344h1v1h-1zM670 344h1v1h-1zM674 344h1v1h-1zM424 282h1v1h-1zM428 282h1v1h-1zM432 282h1v1h-1zM436 282h1v1h-1zM439 282h1v1h-1zM443 282h1v1h-1zM447 282h1v1h-1zM450 282h1v1h-1zM454 282h1v1h-1zM458 282h1v1h-1zM462 282h1v1h-1zM465 282h1v1h-1zM469 282h1v1h-1zM473 282h1v1h-1zM476 282h1v1h-1zM480 282h1v1h-1zM484 282h1v1h-1zM488 282h1v1h-1zM491 282h1v1h-1zM495 282h1v1h-1zM499 282h1v1h-1zM503 282h1v1h-1zM506 282h1v1h-1zM510 282h1v1h-1zM514 282h1v1h-1zM517 282h1v1h-1zM521 282h1v1h-1zM525 282h1v1h-1zM529 282h1v1h-1zM532 282h1v1h-1zM536 282h1v1h-1zM540 282h1v1h-1zM543 282h1v1h-1zM547 282h1v1h-1zM551 282h1v1h-1zM555 282h1v1h-1zM558 282h1v1h-1zM562 282h1v1h-1zM566 282h1v1h-1zM569 282h1v1h-1zM573 282h1v1h-1zM577 282h1v1h-1zM581 282h1v1h-1zM584 282h1v1h-1zM588 282h1v1h-1zM592 282h1v1h-1zM596 282h1v1h-1zM599 282h1v1h-1zM603 282h1v1h-1zM607 282h1v1h-1zM610 282h1v1h-1zM614 282h1v1h-1zM618 282h1v1h-1zM622 282h1v1h-1zM625 282h1v1h-1zM629 282h1v1h-1zM633 282h1v1h-1zM636 282h1v1h-1zM640 282h1v1h-1zM644 282h1v1h-1zM648 282h1v1h-1zM651 282h1v1h-1zM655 282h1v1h-1zM659 282h1v1h-1zM662 282h1v1h-1zM666 282h1v1h-1zM670 282h1v1h-1zM674 282h1v1h-1zM424 219h1v1h-1zM428 219h1v1h-1zM432 219h1v1h-1zM436 219h1v1h-1zM439 219h1v1h-1zM443 219h1v1h-1zM447 219h1v1h-1zM450 219h1v1h-1zM454 219h1v1h-1zM458 219h1v1h-1zM462 219h1v1h-1zM465 219h1v1h-1zM469 219h1v1h-1zM473 219h1v1h-1zM476 219h1v1h-1zM480 219h1v1h-1zM484 219h1v1h-1zM488 219h1v1h-1zM491 219h1v1h-1zM495 219h1v1h-1zM499 219h1v1h-1zM503 219h1v1h-1zM506 219h1v1h-1zM510 219h1v1h-1zM514 219h1v1h-1zM517 219h1v1h-1zM521 219h1v1h-1zM525 219h1v1h-1zM529 219h1v1h-1zM532 219h1v1h-1zM536 219h1v1h-1zM540 219h1v1h-1zM543 219h1v1h-1zM547 219h1v1h-1zM551 219h1v1h-1zM555 219h1v1h-1zM558 219h1v1h-1zM562 219h1v1h-1zM566 219h1v1h-1zM569 219h1v1h-1zM573 219h1v1h-1zM577 219h1v1h-1zM581 219h1v1h-1zM584 219h1v1h-1zM588 219h1v1h-1zM592 219h1v1h-1zM596 219h1v1h-1zM599 219h1v1h-1zM603 219h1v1h-1zM607 219h1v1h-1zM610 219h1v1h-1zM614 219h1v1h-1zM618 219h1v1h-1zM622 219h1v1h-1zM625 219h1v1h-1zM629 219h1v1h-1zM633 219h1v1h-1zM636 219h1v1h-1zM640 219h1v1h-1zM644 219h1v1h-1zM648 219h1v1h-1zM651 219h1v1h-1zM655 219h1v1h-1zM659 219h1v1h-1zM662 219h1v1h-1zM666 219h1v1h-1zM670 219h1v1h-1zM674 219h1v1h-1zM424 157h1v1h-1zM428 157h1v1h-1zM432 157h1v1h-1zM436 157h1v1h-1zM439 157h1v1h-1zM443 157h1v1h-1zM447 157h1v1h-1zM450 157h1v1h-1zM454 157h1v1h-1zM458 157h1v1h-1zM462 157h1v1h-1zM465 157h1v1h-1zM469 157h1v1h-1zM473 157h1v1h-1zM476 157h1v1h-1zM480 157h1v1h-1zM484 157h1v1h-1zM488 157h1v1h-1zM491 157h1v1h-1zM495 157h1v1h-1zM499 157h1v1h-1zM503 157h1v1h-1zM506 157h1v1h-1zM510 157h1v1h-1zM514 157h1v1h-1zM517 157h1v1h-1zM521 157h1v1h-1zM525 157h1v1h-1zM529 157h1v1h-1zM532 157h1v1h-1zM536 157h1v1h-1zM540 157h1v1h-1zM543 157h1v1h-1zM547 157h1v1h-1zM551 157h1v1h-1zM555 157h1v1h-1zM558 157h1v1h-1zM562 157h1v1h-1zM566 157h1v1h-1zM569 157h1v1h-1zM573 157h1v1h-1zM577 157h1v1h-1zM581 157h1v1h-1zM584 157h1v1h-1zM588 157h1v1h-1zM592 157h1v1h-1zM596 157h1v1h-1zM599 157h1v1h-1zM603 157h1v1h-1zM607 157h1v1h-1zM610 157h1v1h-1zM614 157h1v1h-1zM618 157h1v1h-1zM622 157h1v1h-1zM625 157h1v1h-1zM629 157h1v1h-1zM633 157h1v1h-1zM636 157h1v1h-1zM640 157h1v1h-1zM644 157h1v1h-1zM648 157h1v1h-1zM651 157h1v1h-1zM655 157h1v1h-1zM659 157h1v1h-1zM662 157h1v1h-1zM666 157h1v1h-1zM670 157h1v1h-1zM674 157h1v1h-1zM424 95h1v1h-1zM428 95h1v1h-1zM432 95h1v1h-1zM436 95h1v1h-1zM439 95h1v1h-1zM443 95h1v1h-1zM447 95h1v1h-1zM450 95h1v1h-1zM454 95h1v1h-1zM458 95h1v1h-1zM462 95h1v1h-1zM465 95h1v1h-1zM469 95h1v1h-1zM473 95h1v1h-1zM476 95h1v1h-1zM480 95h1v1h-1zM484 95h1v1h-1zM488 95h1v1h-1zM491 95h1v1h-1zM495 95h1v1h-1zM499 95h1v1h-1zM503 95h1v1h-1zM506 95h1v1h-1zM510 95h1v1h-1zM514 95h1v1h-1zM517 95h1v1h-1zM521 95h1v1h-1zM525 95h1v1h-1zM529 95h1v1h-1zM532 95h1v1h-1zM536 95h1v1h-1zM540 95h1v1h-1zM543 95h1v1h-1zM547 95h1v1h-1zM551 95h1v1h-1zM555 95h1v1h-1zM558 95h1v1h-1zM562 95h1v1h-1zM566 95h1v1h-1zM569 95h1v1h-1zM573 95h1v1h-1zM577 95h1v1h-1zM581 95h1v1h-1zM584 95h1v1h-1zM588 95h1v1h-1zM592 95h1v1h-1zM596 95h1v1h-1zM599 95h1v1h-1zM603 95h1v1h-1zM607 95h1v1h-1zM610 95h1v1h-1zM614 95h1v1h-1zM618 95h1v1h-1zM622 95h1v1h-1zM625 95h1v1h-1zM629 95h1v1h-1zM633 95h1v1h-1zM636 95h1v1h-1zM640 95h1v1h-1zM644 95h1v1h-1zM648 95h1v1h-1zM651 95h1v1h-1zM655 95h1v1h-1zM659 95h1v1h-1zM662 95h1v1h-1zM666 95h1v1h-1zM670 95h1v1h-1zM674 95h1v1h-1z" fill="#9a9a9a" shape-rendering="crispEdges"/>
<polygon points="431.4,78.62 434.35,86.01 437.3,93.17 440.25,100.11 443.2,106.83 446.15,113.35 449.1,119.68 452.05,125.82 455,131.8 457.95,137.61 460.9,143.26 463.85,148.76 466.8,154.12 469.75,159.34 472.7,164.44 475.65,169.4 478.6,174.25 481.55,178.98 484.5,183.59 487.45,188.1 490.4,192.51 493.35,196.81 496.3,201.01 499.25,205.11 502.2,209.12 505.15,213.03 508.1,216.85 511.05,220.57 514,224.21 516.95,227.75 519.9,231.2 522.85,234.56 525.8,237.82 528.75,241 531.7,244.08 534.65,247.07 537.6,249.96 540.55,252.76 543.5,255.45 546.45,258.06 549.4,260.56 552.35,262.96 555.3,265.25 558.25,267.45 561.2,269.54 564.15,271.52 567.1,273.39 570.05,275.15 573,276.8 575.95,278.33 578.9,279.75 581.85,281.06 584.8,282.24 587.75,283.31 590.7,284.26 593.65,285.1 596.6,285.81 599.55,286.4 602.5,286.86 605.45,287.21 608.4,287.44 611.35,287.55 614.3,287.53 617.25,287.4 620.2,287.15 623.15,286.79 626.1,286.31 629.05,285.72 632,285.03 634.95,284.22 637.9,283.32 640.85,282.31 643.8,281.21 646.75,280.02 649.7,278.75 652.65,277.39 655.6,275.97 658.55,274.47 661.5,272.92 664.45,271.31 667.4,269.66 667.4,284.72 664.45,286.19 661.5,287.63 658.55,289.02 655.6,290.35 652.65,291.63 649.7,292.83 646.75,293.96 643.8,295.01 640.85,295.97 637.9,296.85 634.95,297.63 632,298.31 629.05,298.9 626.1,299.38 623.15,299.75 620.2,300.01 617.25,300.17 614.3,300.21 611.35,300.14 608.4,299.95 605.45,299.65 602.5,299.24 599.55,298.7 596.6,298.05 593.65,297.29 590.7,296.41 587.75,295.42 584.8,294.31 581.85,293.09 578.9,291.75 575.95,290.31 573,288.76 570.05,287.1 567.1,285.33 564.15,283.45 561.2,281.48 558.25,279.4 555.3,277.21 552.35,274.93 549.4,272.56 546.45,270.08 543.5,267.52 540.55,264.85 537.6,262.1 534.65,259.26 531.7,256.32 528.75,253.3 525.8,250.19 522.85,246.99 519.9,243.7 516.95,240.33 514,236.88 511.05,233.33 508.1,229.7 505.15,225.98 502.2,222.17 499.25,218.27 496.3,214.29 493.35,210.2 490.4,206.03 487.45,201.75 484.5,197.38 481.55,192.9 478.6,188.32 475.65,183.62 472.7,178.81 469.75,173.88 466.8,168.82 463.85,163.63 460.9,158.3 457.95,152.83 455,147.21 452.05,141.43 449.1,135.47 446.15,129.35 443.2,123.03 440.25,116.52 437.3,109.8 434.35,102.87 431.4,95.7" fill="#e2e2e2" stroke="#d0d0d0" stroke-width="1.5" stroke-linejoin="round"/>
<polyline points="432.4,89.65 435.32,96.79 438.25,103.71 441.17,110.41 444.1,116.91 447.02,123.21 449.95,129.34 452.88,135.29 455.8,141.07 458.72,146.69 461.65,152.17 464.57,157.5 467.5,162.7 470.42,167.77 473.35,172.71 476.27,177.53 479.2,182.24 482.12,186.83 485.05,191.32 487.97,195.71 490.9,199.99 493.82,204.18 496.75,208.27 499.67,212.27 502.6,216.17 505.52,219.99 508.45,223.71 511.38,227.35 514.3,230.9 517.22,234.36 520.15,237.74 523.07,241.02 526,244.22 528.92,247.33 531.85,250.35 534.77,253.28 537.7,256.13 540.62,258.87 543.55,261.53 546.47,264.09 549.4,266.56 552.32,268.93 555.25,271.2 558.17,273.37 561.1,275.44 564.02,277.4 566.95,279.26 569.88,281.02 572.8,282.67 575.72,284.21 578.65,285.64 581.57,286.95 584.5,288.16 587.42,289.25 590.35,290.23 593.27,291.09 596.2,291.84 599.12,292.47 602.05,292.98 604.97,293.38 607.9,293.66 610.82,293.83 613.75,293.88 616.67,293.81 619.6,293.63 622.52,293.35 625.45,292.95 628.38,292.44 631.3,291.83 634.22,291.12 637.15,290.31 640.07,289.4 643,288.4 645.92,287.31 648.85,286.14 651.77,284.9 654.7,283.58 657.62,282.2 660.55,280.75 663.47,279.26 666.4,277.72" fill="none" stroke="#111111" stroke-width="2.4" stroke-linejoin="round"/>
<polygon points="431.4,138.16 434.35,142.17 437.3,146.15 440.25,150.09 443.2,153.99 446.15,157.85 449.1,161.68 452.05,165.46 455,169.21 457.95,172.91 460.9,176.58 463.85,180.2 466.8,183.78 469.75,187.31 472.7,190.8 475.65,194.25 478.6,197.65 481.55,201 484.5,204.31 487.45,207.57 490.4,210.78 493.35,213.94 496.3,217.06 499.25,220.12 502.2,223.14 505.15,226.1 508.1,229.02 511.05,231.88 514,234.69 516.95,237.45 519.9,240.16 522.85,242.81 525.8,245.41 528.75,247.96 531.7,250.45 534.65,252.89 537.6,255.28 540.55,257.61 543.5,259.88 546.45,262.1 549.4,264.27 552.35,266.38 555.3,268.43 558.25,270.43 561.2,272.37 564.15,274.25 567.1,276.08 570.05,277.85 573,279.57 575.95,281.23 578.9,282.83 581.85,284.37 584.8,285.86 587.75,287.29 590.7,288.67 593.65,289.98 596.6,291.25 599.55,292.45 602.5,293.6 605.45,294.69 608.4,295.72 611.35,296.7 614.3,297.62 617.25,298.49 620.2,299.3 623.15,300.06 626.1,300.76 629.05,301.4 632,301.99 634.95,302.53 637.9,303.01 640.85,303.43 643.8,303.81 646.75,304.13 649.7,304.39 652.65,304.61 655.6,304.77 658.55,304.88 661.5,304.93 664.45,304.94 667.4,304.9 667.4,311.85 664.45,312.02 661.5,312.13 658.55,312.19 655.6,312.2 652.65,312.15 649.7,312.05 646.75,311.89 643.8,311.68 640.85,311.42 637.9,311.09 634.95,310.72 632,310.28 629.05,309.79 626.1,309.24 623.15,308.64 620.2,307.98 617.25,307.26 614.3,306.48 611.35,305.65 608.4,304.76 605.45,303.81 602.5,302.8 599.55,301.73 596.6,300.61 593.65,299.43 590.7,298.19 587.75,296.89 584.8,295.53 581.85,294.11 578.9,292.63 575.95,291.1 573,289.51 570.05,287.86 567.1,286.15 564.15,284.38 561.2,282.55 558.25,280.67 555.3,278.72 552.35,276.72 549.4,274.67 546.45,272.55 543.5,270.38 540.55,268.15 537.6,265.86 534.65,263.52 531.7,261.12 528.75,258.67 525.8,256.16 522.85,253.59 519.9,250.97 516.95,248.3 514,245.57 511.05,242.79 508.1,239.95 505.15,237.06 502.2,234.12 499.25,231.12 496.3,228.08 493.35,224.98 490.4,221.83 487.45,218.63 484.5,215.39 481.55,212.09 478.6,208.74 475.65,205.35 472.7,201.91 469.75,198.42 466.8,194.89 463.85,191.31 460.9,187.69 457.95,184.02 455,180.31 452.05,176.56 449.1,172.76 446.15,168.93 443.2,165.05 440.25,161.13 437.3,157.18 434.35,153.19 431.4,149.16" fill="#e2e2e2" stroke="#d0d0d0" stroke-width="1.5" stroke-linejoin="round"/>
<polyline points="432.4,145.03 435.32,149 438.25,152.94 441.17,156.84 444.1,160.7 447.02,164.53 449.95,168.32 452.88,172.06 455.8,175.77 458.72,179.43 461.65,183.06 464.57,186.64 467.5,190.18 470.42,193.67 473.35,197.12 476.27,200.52 479.2,203.88 482.12,207.19 485.05,210.46 487.97,213.67 490.9,216.84 493.82,219.96 496.75,223.04 499.67,226.06 502.6,229.03 505.52,231.95 508.45,234.82 511.38,237.64 514.3,240.41 517.22,243.13 520.15,245.79 523.07,248.4 526,250.96 528.92,253.46 531.85,255.91 534.77,258.31 537.7,260.65 540.62,262.94 543.55,265.17 546.47,267.35 549.4,269.47 552.32,271.53 555.25,273.54 558.17,275.5 561.1,277.4 564.02,279.24 566.95,281.02 569.88,282.75 572.8,284.42 575.72,286.04 578.65,287.6 581.57,289.1 584.5,290.55 587.42,291.94 590.35,293.27 593.27,294.55 596.2,295.77 599.12,296.93 602.05,298.03 604.97,299.08 607.9,300.08 610.82,301.01 613.75,301.9 616.67,302.72 619.6,303.49 622.52,304.2 625.45,304.86 628.38,305.47 631.3,306.01 634.22,306.51 637.15,306.95 640.07,307.33 643,307.66 645.92,307.94 648.85,308.17 651.77,308.34 654.7,308.46 657.62,308.52 660.55,308.54 663.47,308.5 666.4,308.42" fill="none" stroke="#62addc" stroke-width="2.6" stroke-linejoin="round"/>
<rect x="421.9" y="22.5" width="254.5" height="330.8" fill="none" stroke="#262626" stroke-width="1.3"/>
<path d="M432.5 353.3V359.8M510.5 353.3V359.8M588.5 353.3V359.8M666.5 353.3V359.8M415.4 344.5H421.9M415.4 282.5H421.9M415.4 219.5H421.9M415.4 157.5H421.9M415.4 95.5H421.9M415.4 33.5H421.9" stroke="#262626" stroke-width="1.15" fill="none"/>
<text x="432.4" y="374" text-anchor="middle" font-size="11" fill="#2b2b2b" class="t">2013</text>
<text x="510.4" y="374" text-anchor="middle" font-size="11" fill="#2b2b2b" class="t">2014</text>
<text x="588.4" y="374" text-anchor="middle" font-size="11" fill="#2b2b2b" class="t">2015</text>
<text x="666.4" y="374" text-anchor="middle" font-size="11" fill="#2b2b2b" class="t">2016</text>
<text transform="translate(410,348.5) scale(1.13,1)" text-anchor="end" font-size="11" fill="#2b2b2b" class="t">0</text>
<text transform="translate(410,286.2) scale(1.04,1)" text-anchor="end" font-size="11" fill="#2b2b2b" class="t">0.01</text>
<text transform="translate(410,223.9) scale(1.12,1)" text-anchor="end" font-size="11" fill="#2b2b2b" class="t">0.02</text>
<text transform="translate(410,161.6) scale(1.16,1)" text-anchor="end" font-size="11" fill="#2b2b2b" class="t">0.03</text>
<text transform="translate(410,99.3) scale(1.12,1)" text-anchor="end" font-size="11" fill="#2b2b2b" class="t">0.04</text>
<text transform="translate(410,37) scale(1.12,1)" text-anchor="end" font-size="11" fill="#2b2b2b" class="t">0.05</text>
<text x="543.6" y="394.7" text-anchor="middle" font-size="13" fill="#2b2b2b" class="t">Year</text>
<text transform="translate(368.9,188) rotate(-90)" text-anchor="middle" font-size="13.55" fill="#2b2b2b" class="t">arsinh (waste gas emission intensity)</text>
<text transform="translate(358.5,19.3) scale(1.1,1)" font-size="17.5" font-weight="bold" fill="#111" stroke="#111" stroke-width="1.0">b</text>
<path d="M799 25h1v1h-1zM799 29h1v1h-1zM799 32h1v1h-1zM799 36h1v1h-1zM799 40h1v1h-1zM799 44h1v1h-1zM799 47h1v1h-1zM799 51h1v1h-1zM799 55h1v1h-1zM799 58h1v1h-1zM799 62h1v1h-1zM799 66h1v1h-1zM799 70h1v1h-1zM799 73h1v1h-1zM799 77h1v1h-1zM799 81h1v1h-1zM799 85h1v1h-1zM799 88h1v1h-1zM799 92h1v1h-1zM799 96h1v1h-1zM799 99h1v1h-1zM799 103h1v1h-1zM799 107h1v1h-1zM799 111h1v1h-1zM799 114h1v1h-1zM799 118h1v1h-1zM799 122h1v1h-1zM799 125h1v1h-1zM799 129h1v1h-1zM799 133h1v1h-1zM799 137h1v1h-1zM799 140h1v1h-1zM799 144h1v1h-1zM799 148h1v1h-1zM799 151h1v1h-1zM799 155h1v1h-1zM799 159h1v1h-1zM799 163h1v1h-1zM799 166h1v1h-1zM799 170h1v1h-1zM799 174h1v1h-1zM799 178h1v1h-1zM799 181h1v1h-1zM799 185h1v1h-1zM799 189h1v1h-1zM799 192h1v1h-1zM799 196h1v1h-1zM799 200h1v1h-1zM799 204h1v1h-1zM799 207h1v1h-1zM799 211h1v1h-1zM799 215h1v1h-1zM799 218h1v1h-1zM799 222h1v1h-1zM799 226h1v1h-1zM799 230h1v1h-1zM799 233h1v1h-1zM799 237h1v1h-1zM799 241h1v1h-1zM799 244h1v1h-1zM799 248h1v1h-1zM799 252h1v1h-1zM799 256h1v1h-1zM799 259h1v1h-1zM799 263h1v1h-1zM799 267h1v1h-1zM799 271h1v1h-1zM799 274h1v1h-1zM799 278h1v1h-1zM799 282h1v1h-1zM799 285h1v1h-1zM799 289h1v1h-1zM799 293h1v1h-1zM799 297h1v1h-1zM799 300h1v1h-1zM799 304h1v1h-1zM799 308h1v1h-1zM799 311h1v1h-1zM799 315h1v1h-1zM799 319h1v1h-1zM799 323h1v1h-1zM799 326h1v1h-1zM799 330h1v1h-1zM799 334h1v1h-1zM799 337h1v1h-1zM799 341h1v1h-1zM799 345h1v1h-1zM799 349h1v1h-1zM878 25h1v1h-1zM878 29h1v1h-1zM878 32h1v1h-1zM878 36h1v1h-1zM878 40h1v1h-1zM878 44h1v1h-1zM878 47h1v1h-1zM878 51h1v1h-1zM878 55h1v1h-1zM878 58h1v1h-1zM878 62h1v1h-1zM878 66h1v1h-1zM878 70h1v1h-1zM878 73h1v1h-1zM878 77h1v1h-1zM878 81h1v1h-1zM878 85h1v1h-1zM878 88h1v1h-1zM878 92h1v1h-1zM878 96h1v1h-1zM878 99h1v1h-1zM878 103h1v1h-1zM878 107h1v1h-1zM878 111h1v1h-1zM878 114h1v1h-1zM878 118h1v1h-1zM878 122h1v1h-1zM878 125h1v1h-1zM878 129h1v1h-1zM878 133h1v1h-1zM878 137h1v1h-1zM878 140h1v1h-1zM878 144h1v1h-1zM878 148h1v1h-1zM878 151h1v1h-1zM878 155h1v1h-1zM878 159h1v1h-1zM878 163h1v1h-1zM878 166h1v1h-1zM878 170h1v1h-1zM878 174h1v1h-1zM878 178h1v1h-1zM878 181h1v1h-1zM878 185h1v1h-1zM878 189h1v1h-1zM878 192h1v1h-1zM878 196h1v1h-1zM878 200h1v1h-1zM878 204h1v1h-1zM878 207h1v1h-1zM878 211h1v1h-1zM878 215h1v1h-1zM878 218h1v1h-1zM878 222h1v1h-1zM878 226h1v1h-1zM878 230h1v1h-1zM878 233h1v1h-1zM878 237h1v1h-1zM878 241h1v1h-1zM878 244h1v1h-1zM878 248h1v1h-1zM878 252h1v1h-1zM878 256h1v1h-1zM878 259h1v1h-1zM878 263h1v1h-1zM878 267h1v1h-1zM878 271h1v1h-1zM878 274h1v1h-1zM878 278h1v1h-1zM878 282h1v1h-1zM878 285h1v1h-1zM878 289h1v1h-1zM878 293h1v1h-1zM878 297h1v1h-1zM878 300h1v1h-1zM878 304h1v1h-1zM878 308h1v1h-1zM878 311h1v1h-1zM878 315h1v1h-1zM878 319h1v1h-1zM878 323h1v1h-1zM878 326h1v1h-1zM878 330h1v1h-1zM878 334h1v1h-1zM878 337h1v1h-1zM878 341h1v1h-1zM878 345h1v1h-1zM878 349h1v1h-1zM958 25h1v1h-1zM958 29h1v1h-1zM958 32h1v1h-1zM958 36h1v1h-1zM958 40h1v1h-1zM958 44h1v1h-1zM958 47h1v1h-1zM958 51h1v1h-1zM958 55h1v1h-1zM958 58h1v1h-1zM958 62h1v1h-1zM958 66h1v1h-1zM958 70h1v1h-1zM958 73h1v1h-1zM958 77h1v1h-1zM958 81h1v1h-1zM958 85h1v1h-1zM958 88h1v1h-1zM958 92h1v1h-1zM958 96h1v1h-1zM958 99h1v1h-1zM958 103h1v1h-1zM958 107h1v1h-1zM958 111h1v1h-1zM958 114h1v1h-1zM958 118h1v1h-1zM958 122h1v1h-1zM958 125h1v1h-1zM958 129h1v1h-1zM958 133h1v1h-1zM958 137h1v1h-1zM958 140h1v1h-1zM958 144h1v1h-1zM958 148h1v1h-1zM958 151h1v1h-1zM958 155h1v1h-1zM958 159h1v1h-1zM958 163h1v1h-1zM958 166h1v1h-1zM958 170h1v1h-1zM958 174h1v1h-1zM958 178h1v1h-1zM958 181h1v1h-1zM958 185h1v1h-1zM958 189h1v1h-1zM958 192h1v1h-1zM958 196h1v1h-1zM958 200h1v1h-1zM958 204h1v1h-1zM958 207h1v1h-1zM958 211h1v1h-1zM958 215h1v1h-1zM958 218h1v1h-1zM958 222h1v1h-1zM958 226h1v1h-1zM958 230h1v1h-1zM958 233h1v1h-1zM958 237h1v1h-1zM958 241h1v1h-1zM958 244h1v1h-1zM958 248h1v1h-1zM958 252h1v1h-1zM958 256h1v1h-1zM958 259h1v1h-1zM958 263h1v1h-1zM958 267h1v1h-1zM958 271h1v1h-1zM958 274h1v1h-1zM958 278h1v1h-1zM958 282h1v1h-1zM958 285h1v1h-1zM958 289h1v1h-1zM958 293h1v1h-1zM958 297h1v1h-1zM958 300h1v1h-1zM958 304h1v1h-1zM958 308h1v1h-1zM958 311h1v1h-1zM958 315h1v1h-1zM958 319h1v1h-1zM958 323h1v1h-1zM958 326h1v1h-1zM958 330h1v1h-1zM958 334h1v1h-1zM958 337h1v1h-1zM958 341h1v1h-1zM958 345h1v1h-1zM958 349h1v1h-1zM1037 25h1v1h-1zM1037 29h1v1h-1zM1037 32h1v1h-1zM1037 36h1v1h-1zM1037 40h1v1h-1zM1037 44h1v1h-1zM1037 47h1v1h-1zM1037 51h1v1h-1zM1037 55h1v1h-1zM1037 58h1v1h-1zM1037 62h1v1h-1zM1037 66h1v1h-1zM1037 70h1v1h-1zM1037 73h1v1h-1zM1037 77h1v1h-1zM1037 81h1v1h-1zM1037 85h1v1h-1zM1037 88h1v1h-1zM1037 92h1v1h-1zM1037 96h1v1h-1zM1037 99h1v1h-1zM1037 103h1v1h-1zM1037 107h1v1h-1zM1037 111h1v1h-1zM1037 114h1v1h-1zM1037 118h1v1h-1zM1037 122h1v1h-1zM1037 125h1v1h-1zM1037 129h1v1h-1zM1037 133h1v1h-1zM1037 137h1v1h-1zM1037 140h1v1h-1zM1037 144h1v1h-1zM1037 148h1v1h-1zM1037 151h1v1h-1zM1037 155h1v1h-1zM1037 159h1v1h-1zM1037 163h1v1h-1zM1037 166h1v1h-1zM1037 170h1v1h-1zM1037 174h1v1h-1zM1037 178h1v1h-1zM1037 181h1v1h-1zM1037 185h1v1h-1zM1037 189h1v1h-1zM1037 192h1v1h-1zM1037 196h1v1h-1zM1037 200h1v1h-1zM1037 204h1v1h-1zM1037 207h1v1h-1zM1037 211h1v1h-1zM1037 215h1v1h-1zM1037 218h1v1h-1zM1037 222h1v1h-1zM1037 226h1v1h-1zM1037 230h1v1h-1zM1037 233h1v1h-1zM1037 237h1v1h-1zM1037 241h1v1h-1zM1037 244h1v1h-1zM1037 248h1v1h-1zM1037 252h1v1h-1zM1037 256h1v1h-1zM1037 259h1v1h-1zM1037 263h1v1h-1zM1037 267h1v1h-1zM1037 271h1v1h-1zM1037 274h1v1h-1zM1037 278h1v1h-1zM1037 282h1v1h-1zM1037 285h1v1h-1zM1037 289h1v1h-1zM1037 293h1v1h-1zM1037 297h1v1h-1zM1037 300h1v1h-1zM1037 304h1v1h-1zM1037 308h1v1h-1zM1037 311h1v1h-1zM1037 315h1v1h-1zM1037 319h1v1h-1zM1037 323h1v1h-1zM1037 326h1v1h-1zM1037 330h1v1h-1zM1037 334h1v1h-1zM1037 337h1v1h-1zM1037 341h1v1h-1zM1037 345h1v1h-1zM1037 349h1v1h-1zM792 343h1v1h-1zM796 343h1v1h-1zM799 343h1v1h-1zM803 343h1v1h-1zM807 343h1v1h-1zM811 343h1v1h-1zM814 343h1v1h-1zM818 343h1v1h-1zM822 343h1v1h-1zM825 343h1v1h-1zM829 343h1v1h-1zM833 343h1v1h-1zM837 343h1v1h-1zM840 343h1v1h-1zM844 343h1v1h-1zM848 343h1v1h-1zM852 343h1v1h-1zM855 343h1v1h-1zM859 343h1v1h-1zM863 343h1v1h-1zM866 343h1v1h-1zM870 343h1v1h-1zM874 343h1v1h-1zM878 343h1v1h-1zM881 343h1v1h-1zM885 343h1v1h-1zM889 343h1v1h-1zM892 343h1v1h-1zM896 343h1v1h-1zM900 343h1v1h-1zM904 343h1v1h-1zM907 343h1v1h-1zM911 343h1v1h-1zM915 343h1v1h-1zM918 343h1v1h-1zM922 343h1v1h-1zM926 343h1v1h-1zM930 343h1v1h-1zM933 343h1v1h-1zM937 343h1v1h-1zM941 343h1v1h-1zM945 343h1v1h-1zM948 343h1v1h-1zM952 343h1v1h-1zM956 343h1v1h-1zM959 343h1v1h-1zM963 343h1v1h-1zM967 343h1v1h-1zM971 343h1v1h-1zM974 343h1v1h-1zM978 343h1v1h-1zM982 343h1v1h-1zM985 343h1v1h-1zM989 343h1v1h-1zM993 343h1v1h-1zM997 343h1v1h-1zM1000 343h1v1h-1zM1004 343h1v1h-1zM1008 343h1v1h-1zM1011 343h1v1h-1zM1015 343h1v1h-1zM1019 343h1v1h-1zM1023 343h1v1h-1zM1026 343h1v1h-1zM1030 343h1v1h-1zM1034 343h1v1h-1zM1038 343h1v1h-1zM1041 343h1v1h-1zM1045 343h1v1h-1zM792 279h1v1h-1zM796 279h1v1h-1zM799 279h1v1h-1zM803 279h1v1h-1zM807 279h1v1h-1zM811 279h1v1h-1zM814 279h1v1h-1zM818 279h1v1h-1zM822 279h1v1h-1zM825 279h1v1h-1zM829 279h1v1h-1zM833 279h1v1h-1zM837 279h1v1h-1zM840 279h1v1h-1zM844 279h1v1h-1zM848 279h1v1h-1zM852 279h1v1h-1zM855 279h1v1h-1zM859 279h1v1h-1zM863 279h1v1h-1zM866 279h1v1h-1zM870 279h1v1h-1zM874 279h1v1h-1zM878 279h1v1h-1zM881 279h1v1h-1zM885 279h1v1h-1zM889 279h1v1h-1zM892 279h1v1h-1zM896 279h1v1h-1zM900 279h1v1h-1zM904 279h1v1h-1zM907 279h1v1h-1zM911 279h1v1h-1zM915 279h1v1h-1zM918 279h1v1h-1zM922 279h1v1h-1zM926 279h1v1h-1zM930 279h1v1h-1zM933 279h1v1h-1zM937 279h1v1h-1zM941 279h1v1h-1zM945 279h1v1h-1zM948 279h1v1h-1zM952 279h1v1h-1zM956 279h1v1h-1zM959 279h1v1h-1zM963 279h1v1h-1zM967 279h1v1h-1zM971 279h1v1h-1zM974 279h1v1h-1zM978 279h1v1h-1zM982 279h1v1h-1zM985 279h1v1h-1zM989 279h1v1h-1zM993 279h1v1h-1zM997 279h1v1h-1zM1000 279h1v1h-1zM1004 279h1v1h-1zM1008 279h1v1h-1zM1011 279h1v1h-1zM1015 279h1v1h-1zM1019 279h1v1h-1zM1023 279h1v1h-1zM1026 279h1v1h-1zM1030 279h1v1h-1zM1034 279h1v1h-1zM1038 279h1v1h-1zM1041 279h1v1h-1zM1045 279h1v1h-1zM792 216h1v1h-1zM796 216h1v1h-1zM799 216h1v1h-1zM803 216h1v1h-1zM807 216h1v1h-1zM811 216h1v1h-1zM814 216h1v1h-1zM818 216h1v1h-1zM822 216h1v1h-1zM825 216h1v1h-1zM829 216h1v1h-1zM833 216h1v1h-1zM837 216h1v1h-1zM840 216h1v1h-1zM844 216h1v1h-1zM848 216h1v1h-1zM852 216h1v1h-1zM855 216h1v1h-1zM859 216h1v1h-1zM863 216h1v1h-1zM866 216h1v1h-1zM870 216h1v1h-1zM874 216h1v1h-1zM878 216h1v1h-1zM881 216h1v1h-1zM885 216h1v1h-1zM889 216h1v1h-1zM892 216h1v1h-1zM896 216h1v1h-1zM900 216h1v1h-1zM904 216h1v1h-1zM907 216h1v1h-1zM911 216h1v1h-1zM915 216h1v1h-1zM918 216h1v1h-1zM922 216h1v1h-1zM926 216h1v1h-1zM930 216h1v1h-1zM933 216h1v1h-1zM937 216h1v1h-1zM941 216h1v1h-1zM945 216h1v1h-1zM948 216h1v1h-1zM952 216h1v1h-1zM956 216h1v1h-1zM959 216h1v1h-1zM963 216h1v1h-1zM967 216h1v1h-1zM971 216h1v1h-1zM974 216h1v1h-1zM978 216h1v1h-1zM982 216h1v1h-1zM985 216h1v1h-1zM989 216h1v1h-1zM993 216h1v1h-1zM997 216h1v1h-1zM1000 216h1v1h-1zM1004 216h1v1h-1zM1008 216h1v1h-1zM1011 216h1v1h-1zM1015 216h1v1h-1zM1019 216h1v1h-1zM1023 216h1v1h-1zM1026 216h1v1h-1zM1030 216h1v1h-1zM1034 216h1v1h-1zM1038 216h1v1h-1zM1041 216h1v1h-1zM1045 216h1v1h-1zM792 152h1v1h-1zM796 152h1v1h-1zM799 152h1v1h-1zM803 152h1v1h-1zM807 152h1v1h-1zM811 152h1v1h-1zM814 152h1v1h-1zM818 152h1v1h-1zM822 152h1v1h-1zM825 152h1v1h-1zM829 152h1v1h-1zM833 152h1v1h-1zM837 152h1v1h-1zM840 152h1v1h-1zM844 152h1v1h-1zM848 152h1v1h-1zM852 152h1v1h-1zM855 152h1v1h-1zM859 152h1v1h-1zM863 152h1v1h-1zM866 152h1v1h-1zM870 152h1v1h-1zM874 152h1v1h-1zM878 152h1v1h-1zM881 152h1v1h-1zM885 152h1v1h-1zM889 152h1v1h-1zM892 152h1v1h-1zM896 152h1v1h-1zM900 152h1v1h-1zM904 152h1v1h-1zM907 152h1v1h-1zM911 152h1v1h-1zM915 152h1v1h-1zM918 152h1v1h-1zM922 152h1v1h-1zM926 152h1v1h-1zM930 152h1v1h-1zM933 152h1v1h-1zM937 152h1v1h-1zM941 152h1v1h-1zM945 152h1v1h-1zM948 152h1v1h-1zM952 152h1v1h-1zM956 152h1v1h-1zM959 152h1v1h-1zM963 152h1v1h-1zM967 152h1v1h-1zM971 152h1v1h-1zM974 152h1v1h-1zM978 152h1v1h-1zM982 152h1v1h-1zM985 152h1v1h-1zM989 152h1v1h-1zM993 152h1v1h-1zM997 152h1v1h-1zM1000 152h1v1h-1zM1004 152h1v1h-1zM1008 152h1v1h-1zM1011 152h1v1h-1zM1015 152h1v1h-1zM1019 152h1v1h-1zM1023 152h1v1h-1zM1026 152h1v1h-1zM1030 152h1v1h-1zM1034 152h1v1h-1zM1038 152h1v1h-1zM1041 152h1v1h-1zM1045 152h1v1h-1zM792 89h1v1h-1zM796 89h1v1h-1zM799 89h1v1h-1zM803 89h1v1h-1zM807 89h1v1h-1zM811 89h1v1h-1zM814 89h1v1h-1zM818 89h1v1h-1zM822 89h1v1h-1zM825 89h1v1h-1zM829 89h1v1h-1zM833 89h1v1h-1zM837 89h1v1h-1zM840 89h1v1h-1zM844 89h1v1h-1zM848 89h1v1h-1zM852 89h1v1h-1zM855 89h1v1h-1zM859 89h1v1h-1zM863 89h1v1h-1zM866 89h1v1h-1zM870 89h1v1h-1zM874 89h1v1h-1zM878 89h1v1h-1zM881 89h1v1h-1zM885 89h1v1h-1zM889 89h1v1h-1zM892 89h1v1h-1zM896 89h1v1h-1zM900 89h1v1h-1zM904 89h1v1h-1zM907 89h1v1h-1zM911 89h1v1h-1zM915 89h1v1h-1zM918 89h1v1h-1zM922 89h1v1h-1zM926 89h1v1h-1zM930 89h1v1h-1zM933 89h1v1h-1zM937 89h1v1h-1zM941 89h1v1h-1zM945 89h1v1h-1zM948 89h1v1h-1zM952 89h1v1h-1zM956 89h1v1h-1zM959 89h1v1h-1zM963 89h1v1h-1zM967 89h1v1h-1zM971 89h1v1h-1zM974 89h1v1h-1zM978 89h1v1h-1zM982 89h1v1h-1zM985 89h1v1h-1zM989 89h1v1h-1zM993 89h1v1h-1zM997 89h1v1h-1zM1000 89h1v1h-1zM1004 89h1v1h-1zM1008 89h1v1h-1zM1011 89h1v1h-1zM1015 89h1v1h-1zM1019 89h1v1h-1zM1023 89h1v1h-1zM1026 89h1v1h-1zM1030 89h1v1h-1zM1034 89h1v1h-1zM1038 89h1v1h-1zM1041 89h1v1h-1zM1045 89h1v1h-1zM792 25h1v1h-1zM796 25h1v1h-1zM799 25h1v1h-1zM803 25h1v1h-1zM807 25h1v1h-1zM811 25h1v1h-1zM814 25h1v1h-1zM818 25h1v1h-1zM822 25h1v1h-1zM825 25h1v1h-1zM829 25h1v1h-1zM833 25h1v1h-1zM837 25h1v1h-1zM840 25h1v1h-1zM844 25h1v1h-1zM848 25h1v1h-1zM852 25h1v1h-1zM855 25h1v1h-1zM859 25h1v1h-1zM863 25h1v1h-1zM866 25h1v1h-1zM870 25h1v1h-1zM874 25h1v1h-1zM878 25h1v1h-1zM881 25h1v1h-1zM885 25h1v1h-1zM889 25h1v1h-1zM892 25h1v1h-1zM896 25h1v1h-1zM900 25h1v1h-1zM904 25h1v1h-1zM907 25h1v1h-1zM911 25h1v1h-1zM915 25h1v1h-1zM918 25h1v1h-1zM922 25h1v1h-1zM926 25h1v1h-1zM930 25h1v1h-1zM933 25h1v1h-1zM937 25h1v1h-1zM941 25h1v1h-1zM945 25h1v1h-1zM948 25h1v1h-1zM952 25h1v1h-1zM956 25h1v1h-1zM959 25h1v1h-1zM963 25h1v1h-1zM967 25h1v1h-1zM971 25h1v1h-1zM974 25h1v1h-1zM978 25h1v1h-1zM982 25h1v1h-1zM985 25h1v1h-1zM989 25h1v1h-1zM993 25h1v1h-1zM997 25h1v1h-1zM1000 25h1v1h-1zM1004 25h1v1h-1zM1008 25h1v1h-1zM1011 25h1v1h-1zM1015 25h1v1h-1zM1019 25h1v1h-1zM1023 25h1v1h-1zM1026 25h1v1h-1zM1030 25h1v1h-1zM1034 25h1v1h-1zM1038 25h1v1h-1zM1041 25h1v1h-1zM1045 25h1v1h-1z" fill="#9a9a9a" shape-rendering="crispEdges"/>
<polygon points="796.9,306.47 799.94,306.74 802.97,307 806.01,307.25 809.04,307.49 812.08,307.72 815.12,307.93 818.15,308.14 821.19,308.33 824.23,308.51 827.26,308.68 830.3,308.83 833.34,308.98 836.37,309.11 839.41,309.23 842.44,309.34 845.48,309.44 848.52,309.53 851.55,309.61 854.59,309.67 857.62,309.72 860.66,309.76 863.7,309.79 866.73,309.81 869.77,309.82 872.81,309.81 875.84,309.79 878.88,309.76 881.91,309.72 884.95,309.67 887.99,309.61 891.02,309.53 894.06,309.45 897.1,309.35 900.13,309.24 903.17,309.12 906.2,308.99 909.24,308.84 912.28,308.69 915.31,308.52 918.35,308.34 921.39,308.15 924.42,307.95 927.46,307.74 930.5,307.52 933.53,307.28 936.57,307.03 939.6,306.78 942.64,306.51 945.68,306.23 948.71,305.93 951.75,305.63 954.78,305.31 957.82,304.99 960.86,304.65 963.89,304.3 966.93,303.94 969.97,303.57 973,303.18 976.04,302.79 979.07,302.38 982.11,301.96 985.15,301.53 988.18,301.09 991.22,300.64 994.26,300.18 997.29,299.7 1000.33,299.22 1003.37,298.72 1006.4,298.21 1009.44,297.69 1012.47,297.16 1015.51,296.62 1018.55,296.07 1021.58,295.5 1024.62,294.93 1027.65,294.34 1030.69,293.74 1033.73,293.13 1036.76,292.51 1039.8,291.88 1039.8,301.1 1036.76,301.71 1033.73,302.3 1030.69,302.88 1027.65,303.45 1024.62,304.01 1021.58,304.55 1018.55,305.09 1015.51,305.62 1012.47,306.14 1009.44,306.65 1006.4,307.14 1003.37,307.63 1000.33,308.1 997.29,308.57 994.26,309.02 991.22,309.47 988.18,309.9 985.15,310.32 982.11,310.73 979.07,311.14 976.04,311.53 973,311.91 969.97,312.28 966.93,312.64 963.89,312.99 960.86,313.32 957.82,313.65 954.78,313.97 951.75,314.28 948.71,314.57 945.68,314.86 942.64,315.13 939.6,315.4 936.57,315.65 933.53,315.89 930.5,316.12 927.46,316.34 924.42,316.56 921.39,316.75 918.35,316.94 915.31,317.12 912.28,317.29 909.24,317.45 906.2,317.59 903.17,317.73 900.13,317.86 897.1,317.97 894.06,318.07 891.02,318.17 887.99,318.25 884.95,318.32 881.91,318.38 878.88,318.43 875.84,318.47 872.81,318.5 869.77,318.52 866.73,318.52 863.7,318.52 860.66,318.5 857.62,318.48 854.59,318.44 851.55,318.4 848.52,318.34 845.48,318.27 842.44,318.19 839.41,318.1 836.37,318 833.34,317.88 830.3,317.76 827.26,317.63 824.23,317.48 821.19,317.33 818.15,317.16 815.12,316.98 812.08,316.8 809.04,316.6 806.01,316.39 802.97,316.17 799.94,315.93 796.9,315.69" fill="#d5d5d5" stroke="#d0d0d0" stroke-width="1.5" stroke-linejoin="round"/>
<polyline points="799.4,311.29 802.37,311.54 805.35,311.77 808.32,311.99 811.29,312.2 814.27,312.4 817.24,312.59 820.22,312.77 823.19,312.94 826.16,313.1 829.14,313.24 832.11,313.38 835.09,313.5 838.06,313.62 841.03,313.72 844.01,313.81 846.98,313.9 849.95,313.97 852.93,314.03 855.9,314.08 858.88,314.12 861.85,314.14 864.82,314.16 867.8,314.17 870.77,314.16 873.74,314.15 876.72,314.12 879.69,314.09 882.66,314.04 885.64,313.98 888.61,313.91 891.59,313.83 894.56,313.75 897.53,313.64 900.51,313.53 903.48,313.41 906.45,313.28 909.43,313.14 912.4,312.98 915.38,312.82 918.35,312.64 921.32,312.46 924.3,312.26 927.27,312.06 930.25,311.84 933.22,311.61 936.19,311.37 939.17,311.12 942.14,310.86 945.11,310.59 948.09,310.31 951.06,310.02 954.03,309.72 957.01,309.41 959.98,309.08 962.96,308.75 965.93,308.41 968.9,308.05 971.88,307.69 974.85,307.31 977.82,306.92 980.8,306.53 983.77,306.12 986.75,305.7 989.72,305.27 992.69,304.84 995.67,304.39 998.64,303.93 1001.62,303.46 1004.59,302.98 1007.56,302.48 1010.54,301.98 1013.51,301.47 1016.48,300.95 1019.46,300.42 1022.43,299.87 1025.4,299.32 1028.38,298.75 1031.35,298.18 1034.33,297.6 1037.3,297" fill="none" stroke="#111111" stroke-width="2.4" stroke-linejoin="round"/>
<polygon points="796.9,56.26 799.94,55.96 802.97,55.66 806.01,55.38 809.04,55.11 812.08,54.86 815.12,54.61 818.15,54.38 821.19,54.16 824.23,53.95 827.26,53.76 830.3,53.57 833.34,53.4 836.37,53.25 839.41,53.1 842.44,52.97 845.48,52.85 848.52,52.75 851.55,52.65 854.59,52.57 857.62,52.51 860.66,52.46 863.7,52.42 866.73,52.39 869.77,52.38 872.81,52.38 875.84,52.4 878.88,52.43 881.91,52.47 884.95,52.53 887.99,52.6 891.02,52.69 894.06,52.79 897.1,52.91 900.13,53.04 903.17,53.18 906.2,53.34 909.24,53.51 912.28,53.7 915.31,53.9 918.35,54.12 921.39,54.35 924.42,54.6 927.46,54.87 930.5,55.14 933.53,55.44 936.57,55.75 939.6,56.07 942.64,56.41 945.68,56.77 948.71,57.14 951.75,57.53 954.78,57.93 957.82,58.35 960.86,58.79 963.89,59.24 966.93,59.71 969.97,60.19 973,60.69 976.04,61.21 979.07,61.75 982.11,62.3 985.15,62.86 988.18,63.45 991.22,64.05 994.26,64.67 997.29,65.3 1000.33,65.95 1003.37,66.62 1006.4,67.31 1009.44,68.01 1012.47,68.74 1015.51,69.47 1018.55,70.23 1021.58,71.01 1024.62,71.8 1027.65,72.61 1030.69,73.44 1033.73,74.28 1036.76,75.15 1039.8,76.03 1039.8,85.24 1036.76,84.34 1033.73,83.46 1030.69,82.59 1027.65,81.75 1024.62,80.92 1021.58,80.11 1018.55,79.31 1015.51,78.54 1012.47,77.79 1009.44,77.05 1006.4,76.33 1003.37,75.63 1000.33,74.94 997.29,74.28 994.26,73.63 991.22,73 988.18,72.39 985.15,71.79 982.11,71.21 979.07,70.65 976.04,70.11 973,69.58 969.97,69.07 966.93,68.58 963.89,68.1 960.86,67.64 957.82,67.2 954.78,66.77 951.75,66.36 948.71,65.97 945.68,65.59 942.64,65.23 939.6,64.89 936.57,64.56 933.53,64.24 930.5,63.95 927.46,63.67 924.42,63.4 921.39,63.15 918.35,62.92 915.31,62.7 912.28,62.5 909.24,62.31 906.2,62.14 903.17,61.99 900.13,61.85 897.1,61.72 894.06,61.61 891.02,61.51 887.99,61.43 884.95,61.36 881.91,61.31 878.88,61.27 875.84,61.25 872.81,61.24 869.77,61.25 866.73,61.27 863.7,61.3 860.66,61.35 857.62,61.41 854.59,61.49 851.55,61.58 848.52,61.68 845.48,61.8 842.44,61.93 839.41,62.08 836.37,62.24 833.34,62.41 830.3,62.59 827.26,62.79 824.23,63 821.19,63.23 818.15,63.46 815.12,63.71 812.08,63.98 809.04,64.25 806.01,64.54 802.97,64.84 799.94,65.15 796.9,65.48" fill="#d5d5d5" stroke="#d0d0d0" stroke-width="1.5" stroke-linejoin="round"/>
<polyline points="799.4,60.61 802.37,60.31 805.35,60.02 808.32,59.75 811.29,59.48 814.27,59.23 817.24,58.99 820.22,58.76 823.19,58.55 826.16,58.34 829.14,58.15 832.11,57.97 835.09,57.81 838.06,57.65 841.03,57.51 844.01,57.39 846.98,57.27 849.95,57.17 852.93,57.08 855.9,57 858.88,56.94 861.85,56.89 864.82,56.85 867.8,56.82 870.77,56.81 873.74,56.82 876.72,56.83 879.69,56.86 882.66,56.9 885.64,56.96 888.61,57.03 891.59,57.12 894.56,57.22 897.53,57.33 900.51,57.46 903.48,57.6 906.45,57.75 909.43,57.92 912.4,58.11 915.38,58.31 918.35,58.52 921.32,58.75 924.3,58.99 927.27,59.25 930.25,59.52 933.22,59.81 936.19,60.11 939.17,60.43 942.14,60.76 945.11,61.11 948.09,61.48 951.06,61.86 954.03,62.25 957.01,62.66 959.98,63.09 962.96,63.53 965.93,63.98 968.9,64.46 971.88,64.95 974.85,65.45 977.82,65.97 980.8,66.51 983.77,67.06 986.75,67.63 989.72,68.22 992.69,68.82 995.67,69.44 998.64,70.08 1001.62,70.73 1004.59,71.4 1007.56,72.09 1010.54,72.79 1013.51,73.51 1016.48,74.25 1019.46,75.01 1022.43,75.78 1025.4,76.57 1028.38,77.37 1031.35,78.2 1034.33,79.04 1037.3,79.9" fill="none" stroke="#62addc" stroke-width="2.8" stroke-linejoin="round"/>
<rect x="789.5" y="22.5" width="258.3" height="330.8" fill="none" stroke="#262626" stroke-width="1.3"/>
<path d="M799.5 353.3V359.8M878.5 353.3V359.8M958.5 353.3V359.8M1037.5 353.3V359.8M783 343.5H789.5M783 279.5H789.5M783 216.5H789.5M783 152.5H789.5M783 89.5H789.5M783 25.5H789.5" stroke="#262626" stroke-width="1.15" fill="none"/>
<text x="799.4" y="374" text-anchor="middle" font-size="11" fill="#2b2b2b" class="t">2013</text>
<text x="878.7" y="374" text-anchor="middle" font-size="11" fill="#2b2b2b" class="t">2014</text>
<text x="958" y="374" text-anchor="middle" font-size="11" fill="#2b2b2b" class="t">2015</text>
<text x="1037.3" y="374" text-anchor="middle" font-size="11" fill="#2b2b2b" class="t">2016</text>
<text transform="translate(777.3,347.4) scale(1.18,1)" text-anchor="end" font-size="11" fill="#2b2b2b" class="t">3.00</text>
<text transform="translate(777.3,283.9) scale(1.085,1)" text-anchor="end" font-size="11" fill="#2b2b2b" class="t">3.25</text>
<text transform="translate(777.3,220.4) scale(1.14,1)" text-anchor="end" font-size="11" fill="#2b2b2b" class="t">3.50</text>
<text transform="translate(777.3,156.9) scale(1.055,1)" text-anchor="end" font-size="11" fill="#2b2b2b" class="t">3.75</text>
<text transform="translate(777.3,93.4) scale(1.14,1)" text-anchor="end" font-size="11" fill="#2b2b2b" class="t">4.00</text>
<text transform="translate(777.3,29.9) scale(1.0,1)" text-anchor="end" font-size="11" fill="#2b2b2b" class="t">4.25</text>
<text x="914.5" y="394.7" text-anchor="middle" font-size="13" fill="#2b2b2b" class="t">Year</text>
<text transform="translate(726.4,188) rotate(-90)" text-anchor="middle" font-size="13.5" fill="#2b2b2b" class="t">arsinh (PM2.5 concentration)</text>
<text transform="translate(715.2,19.3) scale(1.1,1)" font-size="17.5" font-weight="bold" fill="#111" stroke="#111" stroke-width="1.0">c</text>
<path d="M367.8 416.7H388.9" stroke="#62addc" stroke-width="2.8"/>
<text x="394.4" y="422" font-size="13.2" fill="#2b2b2b" class="t">Urban areas</text>
<path d="M501 418.4H521.9" stroke="#111111" stroke-width="2.8"/>
<text x="523.6" y="421.9" font-size="13" fill="#2b2b2b" class="t">Rural areas</text>
<path d="M624.9 417.7H645" stroke="#b3b3b3" stroke-width="3.6"/>
<text x="651.5" y="421.9" font-size="12.8" fill="#2b2b2b" class="t">95% CI</text>
</svg>
</body></html>
